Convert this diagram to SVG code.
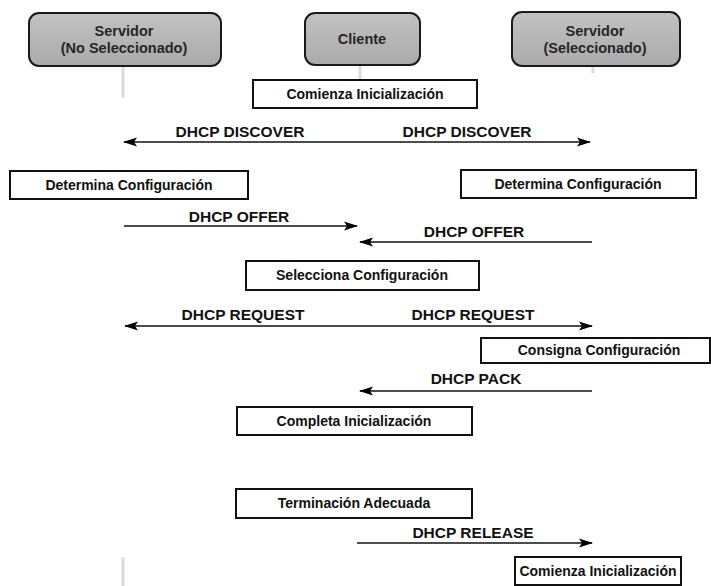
<svg xmlns="http://www.w3.org/2000/svg" width="711" height="586" viewBox="0 0 711 586">
  <defs>
    <linearGradient id="hdrFill" x1="0" y1="0" x2="0" y2="1">
      <stop offset="0" stop-color="#c2c2c2"/>
      <stop offset="1" stop-color="#aaaaaa"/>
    </linearGradient>
    <marker id="head" viewBox="0 0 14 10" refX="13" refY="5" markerWidth="14" markerHeight="10" markerUnits="userSpaceOnUse" orient="auto-start-reverse">
      <path d="M0,0.5 L14,5 L0,9.5 L3,5 Z" fill="#000"/>
    </marker>
  </defs>
  <style>
    text { font-family: "Liberation Sans", Arial, sans-serif; font-weight: bold; fill: #111; }
    .hdr rect { fill: url(#hdrFill); stroke: #1a1a1a; stroke-width: 2; }
    .hdr text { font-size: 14.5px; fill: #262626; text-anchor: middle; }
    .step rect { fill: #fff; stroke: #111; stroke-width: 2; }
    .step text { font-size: 14px; text-anchor: middle; }
    .life { stroke: #dcdcdc; stroke-width: 3; }
    .msg line { stroke: #111; stroke-width: 1.6; }
    .msg text { font-size: 15.5px; text-anchor: middle; }
  </style>
  <rect width="711" height="586" fill="#fff"/>

  <!-- lifeline stubs -->
  <g id="lifelines">
    <line class="life" x1="123" y1="67" x2="123" y2="98"/>
    <line class="life" x1="360" y1="65" x2="360" y2="80"/>
    <line class="life" x1="593" y1="66" x2="593" y2="73"/>
    <line class="life" x1="123" y1="557" x2="123" y2="586"/>
  </g>

  <!-- participants -->
  <g id="servidor-no-sel" class="hdr">
    <rect x="29" y="13" width="192" height="53" rx="10"/>
    <text x="124" y="36">Servidor</text>
    <text x="124" y="53">(No Seleccionado)</text>
  </g>
  <g id="cliente" class="hdr">
    <rect x="305" y="13" width="115" height="52" rx="10"/>
    <text x="362" y="44">Cliente</text>
  </g>
  <g id="servidor-sel" class="hdr">
    <rect x="512" y="12" width="168" height="54" rx="10"/>
    <text x="595" y="36">Servidor</text>
    <text x="595" y="53">(Seleccionado)</text>
  </g>

  <!-- activity boxes -->
  <g id="comienza-1" class="step">
    <rect x="253" y="80" width="224" height="28"/>
    <text x="365" y="99">Comienza Inicialización</text>
  </g>
  <g id="determina-1" class="step">
    <rect x="10" y="171" width="238" height="28"/>
    <text x="129" y="190">Determina Configuración</text>
  </g>
  <g id="determina-2" class="step">
    <rect x="461" y="170" width="235" height="28"/>
    <text x="578" y="189">Determina Configuración</text>
  </g>
  <g id="selecciona" class="step">
    <rect x="246" y="261" width="233" height="29"/>
    <text x="362" y="280">Selecciona Configuración</text>
  </g>
  <g id="consigna" class="step">
    <rect x="481" y="338" width="229" height="25"/>
    <text x="599" y="355">Consigna Configuración</text>
  </g>
  <g id="completa" class="step">
    <rect x="237" y="407" width="235" height="28"/>
    <text x="354" y="426">Completa Inicialización</text>
  </g>
  <g id="terminacion" class="step">
    <rect x="236" y="489" width="236" height="29"/>
    <text x="354" y="508">Terminación Adecuada</text>
  </g>
  <g id="comienza-2" class="step">
    <rect x="515" y="557" width="166" height="28"/>
    <text x="598" y="576">Comienza Inicialización</text>
  </g>

  <!-- messages -->
  <g id="connectors" class="msg">
    <line x1="124" y1="142" x2="590" y2="142" marker-start="url(#head)" marker-end="url(#head)"/>
    <text x="240" y="137">DHCP DISCOVER</text>
    <text x="467" y="137">DHCP DISCOVER</text>

    <line x1="124" y1="226" x2="357" y2="226" marker-end="url(#head)"/>
    <text x="239" y="222">DHCP OFFER</text>

    <line x1="592" y1="242" x2="360" y2="242" marker-end="url(#head)"/>
    <text x="474" y="237">DHCP OFFER</text>

    <line x1="125" y1="326" x2="592" y2="326" marker-start="url(#head)" marker-end="url(#head)"/>
    <text x="243" y="320">DHCP REQUEST</text>
    <text x="473" y="320">DHCP REQUEST</text>

    <line x1="592" y1="391" x2="360" y2="391" marker-end="url(#head)"/>
    <text x="476" y="384">DHCP PACK</text>

    <line x1="357" y1="543" x2="592" y2="543" marker-end="url(#head)"/>
    <text x="473" y="538">DHCP RELEASE</text>
  </g>
</svg>
